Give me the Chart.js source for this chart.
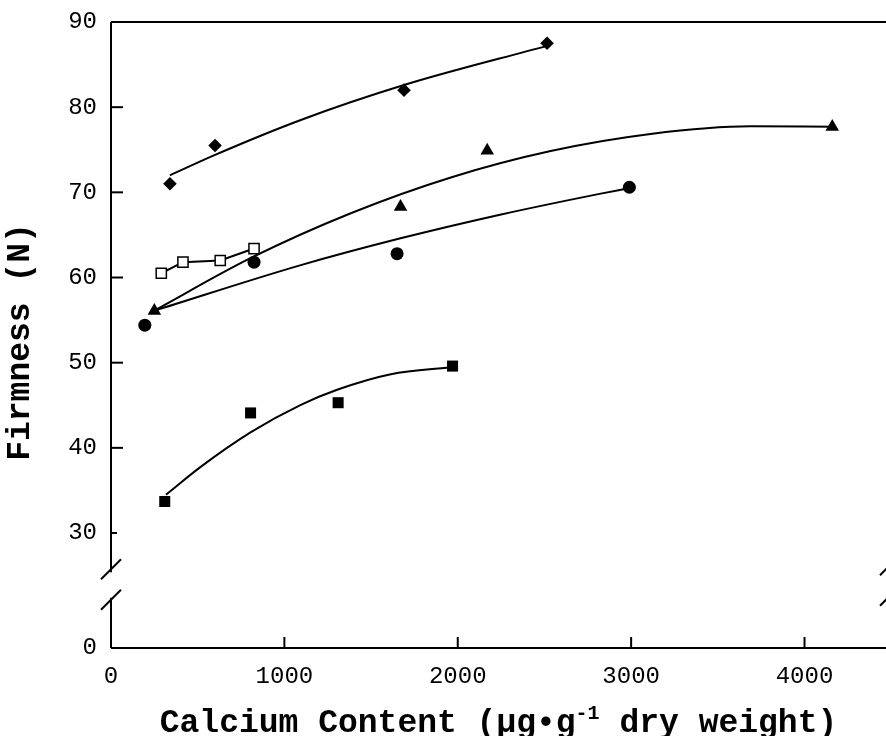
<!DOCTYPE html>
<html>
<head>
<meta charset="utf-8">
<script src="https://cdn.jsdelivr.net/npm/chart.js@4.4.1/dist/chart.umd.min.js"></script>
<style>
  body { margin: 0; background: #fff; }
  #wrap { width: 886px; height: 736px; }
</style>
</head>
<body>
<div id="wrap"><canvas id="chart" width="886" height="736"></canvas></div>
<script>
// measured points (calcium content, firmness)
const diamondX = [340, 600, 1690, 2515];
const diamondY = [71.0, 75.5, 82.0, 87.5];
const triangleX = [250, 1670, 2170, 4160];
const triangleY = [56.1, 68.3, 74.9, 77.7];
const circleX = [195, 825, 1650, 2990];
const circleY = [54.4, 61.8, 62.8, 70.6];
const openSqX = [290, 415, 630, 825];
const openSqY = [60.5, 61.8, 62.0, 63.4];
const filledSqX = [310, 805, 1310, 1970];
const filledSqY = [33.7, 44.1, 45.3, 49.6];

// fitted curves
const diamondFitX = [340, 600, 1095, 1690, 2515];
const diamondFitY = [72.0, 74.4, 78.5, 82.6, 87.2];
const triangleFitX = [248, 807, 1383, 1960, 2536, 3112, 3689, 4161];
const triangleFitY = [56.1, 62.3, 67.55, 71.75, 74.85, 76.85, 77.75, 77.7];
const circleFitX = [250, 1095, 1670, 2250, 2825, 2990];
const circleFitY = [56.1, 61.45, 64.6, 67.4, 69.85, 70.5];
const filledSqFitX = [317, 519, 807, 1095, 1308, 1614, 1971];
const filledSqFitY = [34.5, 37.8, 41.85, 45.05, 46.85, 48.65, 49.5];

// axes
const xTicks = [0, 1000, 2000, 3000, 4000];
const yTicks = [0, 30, 40, 50, 60, 70, 80, 90];
const yZeroAt = 16.5;          // where "0" sits below the axis break
const breakLow = 22.4, breakHigh = 25.4;

const font = '"Courier New", "Liberation Mono", monospace';

function pts(xs, ys) {
    return xs.map((v, i) => ({ x: v, y: ys[i] }));
}

function markers(xs, ys, style, radius, fill) {
    return {
        data: pts(xs, ys),
        showLine: false,
        pointStyle: style,
        pointRadius: radius,
        pointBackgroundColor: fill || '#000',
        pointBorderColor: '#000',
        pointBorderWidth: fill ? 1.5 : 0,
        order: 0
    };
}

function fit(xs, ys, curved) {
    return {
        data: pts(xs, ys),
        showLine: true,
        borderColor: '#000',
        borderWidth: 2,
        pointRadius: 0,
        cubicInterpolationMode: curved ? 'monotone' : 'default',
        tension: 0,
        order: 1
    };
}

function line(ctx, x1, y1, x2, y2) {
    ctx.beginPath();
    ctx.moveTo(x1, y1);
    ctx.lineTo(x2, y2);
    ctx.stroke();
}

const frame = {
    id: 'frame',
    afterDraw(chart) {
        const ctx = chart.ctx;
        const a = chart.chartArea;
        const x = chart.scales.x, y = chart.scales.y;
        ctx.save();
        ctx.strokeStyle = '#000';
        ctx.lineWidth = 2;

        line(ctx, a.left, a.top, a.right, a.top);
        line(ctx, a.left, a.bottom, a.right, a.bottom);
        let gTop = y.getPixelForValue(breakHigh);
        let gBot = y.getPixelForValue(breakLow);
        line(ctx, a.left, a.top, a.left, gTop);
        line(ctx, a.left, gBot, a.left, a.bottom);

        // break marks, left axis and right edge
        [gTop - 3, gBot + 2].forEach(py => {
            line(ctx, a.left - 10, py + 10, a.left + 10, py - 10);
            line(ctx, a.right - 6, py + 6, a.right + 6, py - 6);
        });

        // inward ticks
        xTicks.forEach(v => {
            if (v === 0) return;
            let px = x.getPixelForValue(v);
            line(ctx, px, a.bottom, px, a.bottom - 11);
        });
        yTicks.forEach(v => {
            if (v === 0) return;
            let py = y.getPixelForValue(v);
            line(ctx, a.left, py, a.left + (v === 30 ? 6 : 12), py);
        });

        // axis titles
        ctx.fillStyle = '#000';
        ctx.textBaseline = 'alphabetic';
        let big = 'bold 33px ' + font, small = 'bold 20px ' + font;
        let p1 = 'Calcium Content (\u00b5g\u2022g', sup = '-1', p2 = ' dry weight)';
        ctx.font = big;
        let w1 = ctx.measureText(p1).width, w3 = ctx.measureText(p2).width;
        ctx.font = small;
        let w2 = ctx.measureText(sup).width;
        let sx = (a.left + a.right) / 2 - (w1 + w2 + w3) / 2;
        let base = 732;
        ctx.font = big;
        ctx.textAlign = 'left';
        ctx.fillText(p1, sx, base);
        ctx.font = small;
        ctx.fillText(sup, sx + w1, base - 13);
        ctx.font = big;
        ctx.fillText(p2, sx + w1 + w2, base);

        ctx.translate(21, 342);
        ctx.rotate(-Math.PI / 2);
        ctx.textAlign = 'center';
        ctx.textBaseline = 'middle';
        ctx.fillText('Firmness (N)', 0, 0);
        ctx.restore();
    }
};

window.onload = function () {
    let ctx = document.getElementById('chart').getContext('2d');
    new Chart(ctx, {
        type: 'scatter',
        data: {
            datasets: [
                markers(diamondX, diamondY, 'rectRot', 6.8),
                markers(triangleX, triangleY, 'triangle', 7.8),
                markers(circleX, circleY, 'circle', 6.5),
                markers(openSqX, openSqY, 'rect', 7.2, '#fff'),
                markers(filledSqX, filledSqY, 'rect', 7.8),
                fit(diamondFitX, diamondFitY, true),
                fit(triangleFitX, triangleFitY, true),
                fit(circleFitX, circleFitY, true),
                fit(openSqX, openSqY, false),
                fit(filledSqFitX, filledSqFitY, true)
            ]
        },
        options: {
            responsive: false,
            animation: false,
            layout: { autoPadding: false, padding: { top: 22, right: 0, left: 0, bottom: 0 } },
            plugins: {
                legend: { display: false },
                tooltip: { enabled: false }
            },
            scales: {
                x: {
                    type: 'linear',
                    min: 0,
                    max: 4470,
                    afterBuildTicks: s => { s.ticks = xTicks.map(v => ({ value: v })); },
                    afterFit: s => { s.height = 88; s.paddingLeft = 0; s.paddingRight = 0; },
                    grid: { display: false, drawTicks: false },
                    border: { display: false },
                    ticks: {
                        padding: 14,
                        color: '#000',
                        font: { family: font, size: 24 },
                        callback: v => String(v)
                    }
                },
                y: {
                    type: 'linear',
                    min: yZeroAt,
                    max: 90,
                    afterBuildTicks: s => {
                        s.ticks = yTicks.map(v => ({ value: v === 0 ? yZeroAt : v }));
                    },
                    afterFit: s => { s.width = 111; s.paddingTop = 0; s.paddingBottom = 0; },
                    grid: { display: false, drawTicks: false },
                    border: { display: false },
                    ticks: {
                        padding: 14,
                        color: '#000',
                        font: { family: font, size: 24 },
                        callback: v => (v === yZeroAt ? '0' : String(v))
                    }
                }
            }
        },
        plugins: [frame]
    });
};
</script>
</body>
</html>
